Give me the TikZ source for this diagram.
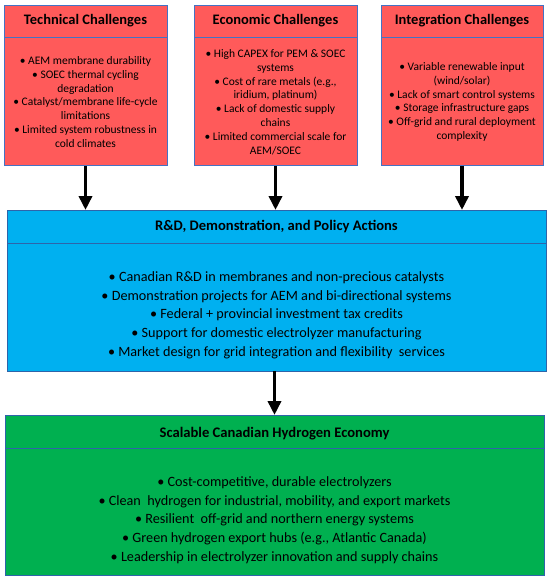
\documentclass[tikz,border=0pt]{standalone}
\usepackage{fontspec}
\setmainfont{Carlito}
\usetikzlibrary{arrows.meta}
\definecolor{redfill}{RGB}{255,90,90}
\definecolor{blufill}{RGB}{0,176,240}
\definecolor{grnfill}{RGB}{0,176,80}
\definecolor{edgeblue}{RGB}{68,114,196}
\definecolor{edgedark}{RGB}{46,100,170}
\begin{document}
\begin{tikzpicture}[x=1pt,y=-1pt,
  panel/.style={draw=edgeblue, line width=0.8pt, rectangle, inner sep=0pt, outer sep=0pt, anchor=north west},
  divider/.style={draw=edgeblue, line width=0.8pt},
  ttlsmall/.style={font=\fontsize{14.5}{17}\selectfont\bfseries, text=black, inner sep=0pt},
  bdysmall/.style={font=\fontsize{11.5}{13.8}\selectfont, align=center, text=black, inner sep=0pt},
  ttlwide/.style={font=\fontsize{14.6}{17}\selectfont\bfseries, text=black, inner sep=0pt},
  bdywide/.style={font=\fontsize{14.2}{18.7}\selectfont, align=center, text=black, inner sep=0pt},
  flowarrow/.style={draw=black, line width=3.5pt, -{Triangle[width=13pt,length=14pt]}}
]
\useasboundingbox (0,0) rectangle (550,582);
% top panels
\node[panel, fill=redfill, minimum width=163pt, minimum height=160.5pt] (tech) at (4,5) {};
\node[panel, fill=redfill, minimum width=163pt, minimum height=160.5pt] (econ) at (194,5) {};
\node[panel, fill=redfill, minimum width=162pt, minimum height=160.5pt] (integ) at (381,5) {};
\draw[divider] (4,37) -- (167,37);
\draw[divider] (194,37) -- (357,37);
\draw[divider] (381,37) -- (543,37);
\node[ttlsmall] (techT) at (85.5,21) {Technical Challenges};
\node[ttlsmall] (econT) at (275.5,21) {Economic Challenges};
\node[ttlsmall] (integT) at (462,21) {Integration Challenges};
\node[bdysmall] (techB) at (85.5,102) {• AEM membrane durability\\• SOEC thermal cycling\\degradation\\• Catalyst/membrane life-cycle\\limitations\\• Limited system robustness in\\cold climates};
\node[bdysmall] (econB) at (275.5,102) {• High CAPEX for PEM \& SOEC\\systems\\• Cost of rare metals (e.g.,\\iridium, platinum)\\• Lack of domestic supply\\chains\\• Limited commercial scale for\\AEM/SOEC};
\node[bdysmall] (integB) at (462,102) {• Variable renewable input\\(wind/solar)\\• Lack of smart control systems\\• Storage infrastructure gaps\\• Off-grid and rural deployment\\complexity};
% middle panel
\node[panel, fill=blufill, draw=edgedark, minimum width=539pt, minimum height=161pt] (rd) at (7,210) {};
\draw[divider, draw=edgedark] (7,243) -- (546,243);
\node[ttlwide] (rdT) at (276.5,227) {R\&D, Demonstration, and Policy Actions};
\node[bdywide] (rdB) at (276.5,315) {• Canadian R\&D in membranes and non-precious catalysts\\• Demonstration projects for AEM and bi-directional systems\\• Federal + provincial investment tax credits\\• Support for domestic electrolyzer manufacturing\\• Market design for grid integration and flexibility\ \ services};
% bottom panel
\node[panel, fill=grnfill, draw=edgedark, minimum width=539pt, minimum height=160pt] (scale) at (5,415) {};
\draw[divider, draw=edgedark] (5,448) -- (544,448);
\node[ttlwide] (scaleT) at (274.5,434) {Scalable Canadian Hydrogen Economy};
\node[bdywide] (scaleB) at (274.5,520) {• Cost-competitive, durable electrolyzers\\• Clean\ \ hydrogen for industrial, mobility, and export markets\\• Resilient\ \ off-grid and northern energy systems\\• Green hydrogen export hubs (e.g., Atlantic Canada)\\• Leadership in electrolyzer innovation and supply chains};
% arrows
\draw[flowarrow] (tech.south) -- (tech.south |- rd.north);
\draw[flowarrow] (econ.south) -- (econ.south |- rd.north);
\draw[flowarrow] (integ.south) -- (integ.south |- rd.north);
\draw[flowarrow] (rd.south -| scale.north) -- (scale.north);
\end{tikzpicture}
\end{document}
